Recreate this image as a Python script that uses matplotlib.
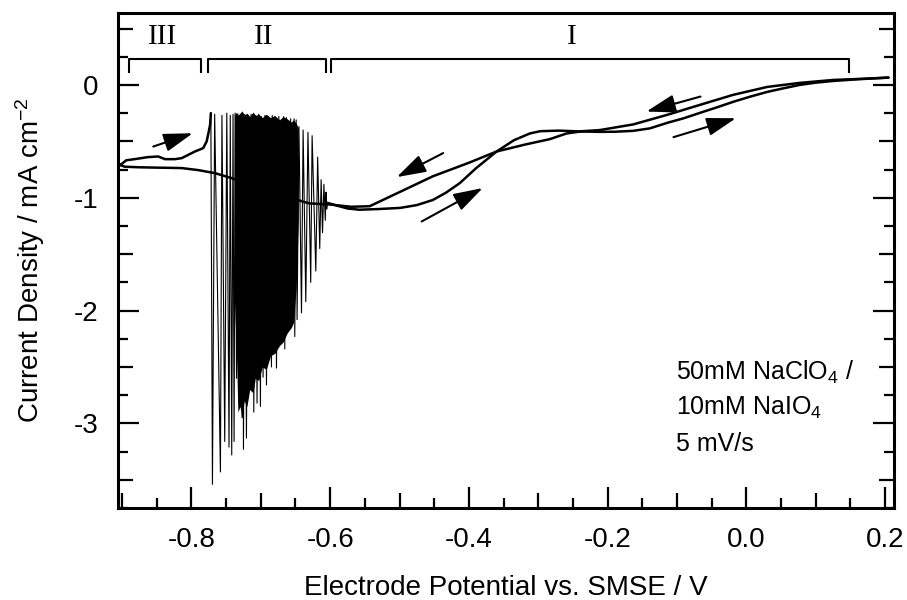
import numpy as np
import matplotlib.pyplot as plt
from matplotlib.ticker import FixedLocator, FuncFormatter

plt.rcParams['font.family'] = ['Liberation Sans', 'DejaVu Sans']
plt.rcParams['mathtext.fontset'] = 'custom'
plt.rcParams['mathtext.rm'] = 'Liberation Sans'
plt.rcParams['mathtext.it'] = 'Liberation Sans'
plt.rcParams['axes.unicode_minus'] = False

# cathodic sweep, 0.2 V -> -0.9 V
cath_E = [0.205, 0.17, 0.125, 0.077, 0.03, -0.019, -0.067, -0.114, -0.163, -0.211,
          -0.236, -0.259, -0.283, -0.32, -0.36, -0.40, -0.452, -0.50, -0.543, -0.57,
          -0.60, -0.63, -0.67, -0.71, -0.742, -0.766, -0.79, -0.814, -0.85, -0.875,
          -0.896, -0.903]
cath_j = [0.065, 0.055, 0.044, 0.018, -0.018, -0.088, -0.177, -0.265, -0.35, -0.40,
          -0.41, -0.43, -0.48, -0.53, -0.59, -0.69, -0.81, -0.95, -1.075, -1.08,
          -1.06, -1.05, -0.98, -0.90, -0.826, -0.782, -0.755, -0.737, -0.733, -0.73,
          -0.725, -0.71]

# return sweep from -0.9 V up to the onset of oscillation
ret_E = [-0.903, -0.899, -0.894, -0.882, -0.863, -0.848, -0.838, -0.824, -0.814,
         -0.795, -0.783, -0.778, -0.775, -0.773, -0.772]
ret_j = [-0.71, -0.693, -0.668, -0.658, -0.640, -0.634, -0.658, -0.658, -0.649,
         -0.590, -0.560, -0.50, -0.413, -0.35, -0.25]

# current oscillations in region II (peak / trough pairs)
osc_E = [-0.772, -0.7697, -0.7665, -0.7582, -0.756, -0.752, -0.749, -0.7458, -0.744,
         -0.7419, -0.740, -0.7385, -0.737, -0.735, -0.733, -0.731, -0.729, -0.727,
         -0.726, -0.725, -0.723, -0.7207, -0.718, -0.7159, -0.714, -0.7126, -0.711,
         -0.7101, -0.708, -0.7054, -0.703, -0.7005, -0.699, -0.6967, -0.694, -0.6918,
         -0.689, -0.6846, -0.6835, -0.6827, -0.680, -0.6774, -0.674, -0.6679, -0.667,
         -0.6654, -0.663, -0.6607, -0.657, -0.6535, -0.652, -0.651, -0.649, -0.6477,
         -0.645, -0.6413, -0.639, -0.6351, -0.632, -0.628, -0.626, -0.6207, -0.618,
         -0.615, -0.613, -0.611, -0.609, -0.607, -0.606, -0.605, -0.604]
osc_j = [-0.25, -3.54, -0.26, -3.43, -0.27, -3.16, -0.25, -3.21, -0.27,
         -3.28, -0.26, -3.16, -0.25, -2.60, -0.26, -2.85, -0.27, -2.95,
         -0.25, -3.23, -0.26, -3.13, -0.27, -2.43, -0.26, -2.70, -0.28,
         -2.90, -0.27, -2.82, -0.26, -2.85, -0.28, -2.59, -0.27, -2.66,
         -0.28, -2.50, -0.27, -2.35, -0.29, -2.51, -0.28, -2.17, -0.28,
         -2.34, -0.29, -2.05, -0.30, -2.06, -0.30, -2.23, -0.31, -2.08,
         -0.37, -2.02, -0.40, -1.92, -0.42, -1.75, -0.45, -1.65, -0.64,
         -1.45, -0.84, -1.31, -0.88, -1.20, -0.95, -1.10, -1.045]

# densely packed part of the oscillation band
core_E = [-0.738, -0.735, -0.733, -0.730, -0.727, -0.724, -0.720, -0.716, -0.711,
          -0.708, -0.703, -0.698, -0.692, -0.686, -0.680, -0.673, -0.668, -0.662,
          -0.656, -0.653, -0.649, -0.646]
core_top = [-0.27, -0.24, -0.27, -0.25, -0.23, -0.27, -0.25, -0.28, -0.24, -0.27,
            -0.26, -0.29, -0.26, -0.29, -0.27, -0.31, -0.28, -0.30, -0.33, -0.31,
            -0.34, -0.38]
core_bot = [-1.90, -2.40, -2.90, -2.85, -2.95, -2.80, -2.85, -2.70, -2.73, -2.60,
            -2.62, -2.50, -2.52, -2.40, -2.38, -2.31, -2.28, -2.20, -2.15, -2.11,
            -1.80, -1.20]

# anodic sweep after the oscillations
an_E = [-0.604, -0.59, -0.575, -0.558, -0.53, -0.499, -0.475, -0.452, -0.433, -0.413,
        -0.39, -0.36, -0.335, -0.312, -0.297, -0.27, -0.236, -0.211, -0.19, -0.163,
        -0.139, -0.114, -0.09, -0.067, -0.043, -0.019, 0.005, 0.03, 0.055, 0.077,
        0.10, 0.125, 0.16, 0.205]
an_j = [-1.045, -1.07, -1.095, -1.106, -1.10, -1.09, -1.065, -1.02, -0.955, -0.87,
        -0.74, -0.59, -0.49, -0.43, -0.41, -0.405, -0.413, -0.416, -0.415, -0.407,
        -0.385, -0.336, -0.295, -0.248, -0.20, -0.150, -0.105, -0.062, -0.028, 0.0,
        0.02, 0.035, 0.05, 0.065]

# sweep-direction arrows: (tail E, tail j, tip E, tip j)
arrows = [(-0.855, -0.546, -0.798, -0.428),
          (-0.437, -0.604, -0.504, -0.817),
          (-0.468, -1.21, -0.380, -0.914),
          (-0.066, -0.103, -0.144, -0.236),
          (-0.105, -0.463, -0.015, -0.295)]

# region brackets
regions = ['III', 'II', 'I']
reg_start = [-0.8904, -0.7765, -0.5991]
reg_end = [-0.7866, -0.6063, 0.148]
reg_label_E = [-0.841, -0.696, -0.251]

fig = plt.figure(figsize=(9.07, 6.0), dpi=100)
ax = fig.add_axes([0.130, 0.1533, 0.8557, 0.8255])

lw = 1.8
ax.plot(cath_E, cath_j, color='k', lw=lw, solid_capstyle='round', zorder=3)
ax.fill_between(core_E, core_bot, core_top, color='k', lw=0, zorder=2)
ax.plot(osc_E, osc_j, color='k', lw=0.8, zorder=2)
ax.plot(ret_E, ret_j, color='k', lw=lw, solid_capstyle='round', zorder=3)
ax.plot(an_E, an_j, color='k', lw=lw, solid_capstyle='round', zorder=3)

for e0, j0, e1, j1 in arrows:
    ax.annotate('', xy=(e1, j1), xytext=(e0, j0),
                arrowprops=dict(arrowstyle='-|>,head_length=0.9,head_width=0.28',
                                mutation_scale=20, lw=1.5, color='k',
                                shrinkA=0, shrinkB=0))

for name, s, e, xc in zip(regions, reg_start, reg_end, reg_label_E):
    ax.plot([s, s, e, e], [0.115, 0.23, 0.23, 0.115], color='k', lw=1.5)
    ax.text(xc, 0.425, name, family='Liberation Serif', fontsize=21,
            ha='center', va='center')

ax.text(-0.1014, -2.61, r'50mM NaClO$_4$ /', fontsize=18, va='baseline')
ax.text(-0.1014, -2.92, r'10mM NaIO$_4$', fontsize=18, va='baseline')
ax.text(-0.1014, -3.245, '5 mV/s', fontsize=18, va='baseline')

ax.set_xlim(-0.906, 0.213)
ax.set_ylim(-3.75, 0.64)

xmaj = [round(v, 2) for v in np.arange(-0.9, 0.21, 0.1)]
xmin = [round(v, 2) for v in np.arange(-0.85, 0.21, 0.1)]
ax.xaxis.set_major_locator(FixedLocator(xmaj))
ax.xaxis.set_minor_locator(FixedLocator(xmin))
ax.xaxis.set_major_formatter(FuncFormatter(
    lambda v, p: ('%.1f' % (0.0 if abs(v) < 1e-9 else v)) if abs(v / 0.2 - round(v / 0.2)) < 1e-6 else ''))

ymaj = [round(v, 2) for v in np.arange(-3.5, 0.6, 0.5)]
ymin = [round(v, 2) for v in np.arange(-3.75, 0.6, 0.5)]
ax.yaxis.set_major_locator(FixedLocator(ymaj))
ax.yaxis.set_minor_locator(FixedLocator(ymin))
ax.yaxis.set_major_formatter(FuncFormatter(
    lambda v, p: '%d' % round(v) if abs(v - round(v)) < 1e-6 else ''))

ax.tick_params(axis='x', which='both', direction='in', top=False, bottom=True,
               labelsize=20, pad=14, width=1.6)
ax.tick_params(axis='y', which='both', direction='in', left=True, right=True,
               labelsize=20, pad=14, width=1.6)
ax.tick_params(which='major', length=11)
ax.tick_params(which='minor', length=7.5)

for t, v in zip(ax.xaxis.get_major_ticks(), xmaj):
    if abs(v / 0.2 - round(v / 0.2)) < 1e-6:
        t.tick1line.set_markersize(15)
for t, v in zip(ax.yaxis.get_major_ticks(), ymaj):
    if abs(v - round(v)) < 1e-6:
        t.tick1line.set_markersize(15)
        t.tick2line.set_markersize(15)

for sp in ax.spines.values():
    sp.set_linewidth(2.2)

ax.set_xlabel('Electrode Potential vs. SMSE / V', fontsize=20)
ax.set_ylabel(r'Current Density / mA cm$^{-2}$', fontsize=20)
ax.xaxis.set_label_coords(0.5, -0.135)
ax.yaxis.set_label_coords(-0.0915, 0.5)

fig.savefig('out.png', dpi=100)
